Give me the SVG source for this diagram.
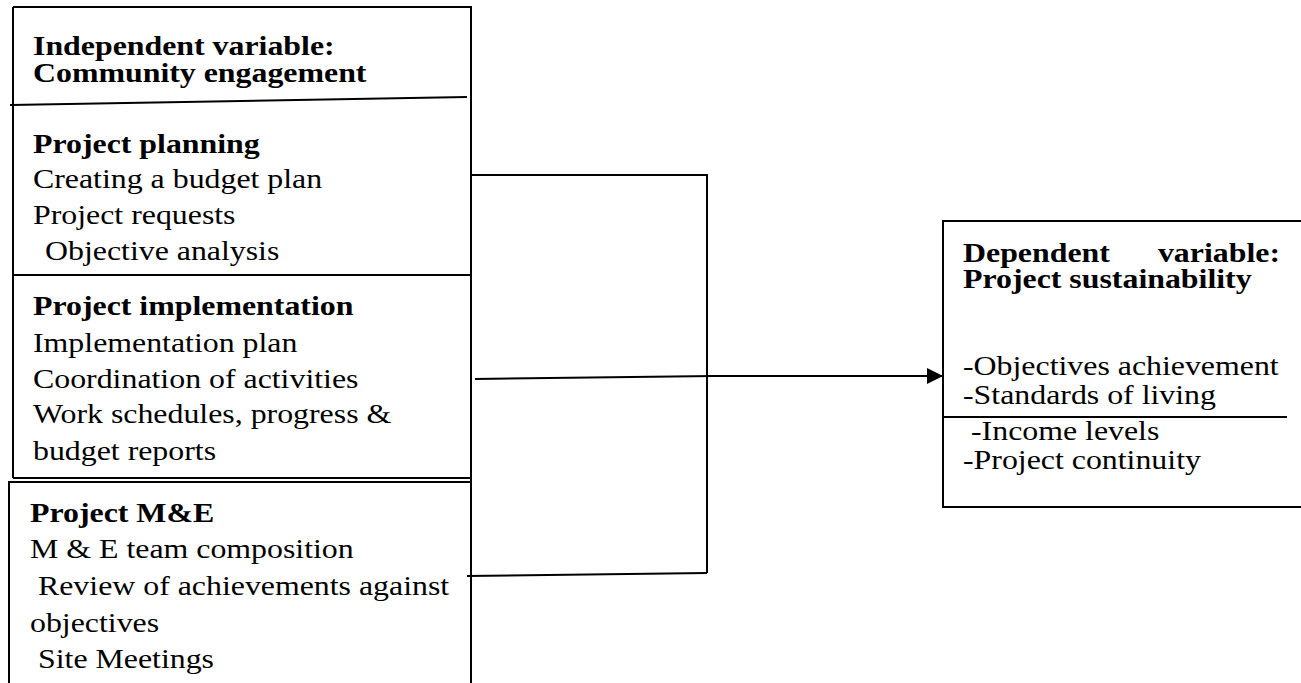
<svg xmlns="http://www.w3.org/2000/svg" width="1301" height="683" viewBox="0 0 1301 683">
<defs>
<style>
text{font-family:"Liberation Serif","Times New Roman",serif;font-size:27px;fill:#000}
.b{font-weight:bold}
.ln{stroke:#000;stroke-width:2;fill:none}
.cn{stroke:#000;stroke-width:2;fill:none}
</style>
<marker id="ah" markerWidth="16" markerHeight="16" refX="16" refY="8" orient="auto" markerUnits="userSpaceOnUse">
<path d="M0,0 L16,8 L0,16 Z" fill="#000"/>
</marker>
</defs>
<rect width="1301" height="683" fill="#fff"/>

<g id="independent">
<path class="ln" d="M13,7 H471 V683 M13,7 V478"/>
<line class="ln" x1="10" y1="105" x2="467" y2="97"/>
<text class="b" transform="matrix(1.18 0 0 1 33 55)">Independent variable:</text>
<text class="b" transform="matrix(1.18 0 0 1 33 82)">Community engagement</text>
</g>

<g id="planning">
<line class="ln" x1="13" y1="275" x2="471" y2="275"/>
<text class="b" transform="matrix(1.18 0 0 1 33 153)">Project planning</text>
<text transform="matrix(1.18 0 0 1 33 188)">Creating a budget plan</text>
<text transform="matrix(1.18 0 0 1 33 224)">Project requests</text>
<text transform="matrix(1.18 0 0 1 45 260)">Objective analysis</text>
</g>

<g id="implementation">
<line class="ln" x1="13" y1="478" x2="471" y2="478"/>
<text class="b" transform="matrix(1.18 0 0 1 33 315)">Project implementation</text>
<text transform="matrix(1.18 0 0 1 33 352)">Implementation plan</text>
<text transform="matrix(1.18 0 0 1 33 388)">Coordination of activities</text>
<text transform="matrix(1.18 0 0 1 33 423)">Work schedules, progress &amp;</text>
<text transform="matrix(1.18 0 0 1 33 460)">budget reports</text>
</g>

<g id="me">
<path class="ln" d="M9,683 V482 H471"/>
<text class="b" transform="matrix(1.18 0 0 1 30 522)">Project M&amp;E</text>
<text transform="matrix(1.18 0 0 1 30 558)">M &amp; E team composition</text>
<text transform="matrix(1.18 0 0 1 38 595)">Review of achievements against</text>
<text transform="matrix(1.18 0 0 1 30 632)">objectives</text>
<text transform="matrix(1.18 0 0 1 38 668)">Site Meetings</text>
</g>

<g id="dependent">
<path class="ln" d="M1305,221 H943 V507 H1305"/>
<line class="ln" x1="943" y1="417" x2="1287" y2="417"/>
<text class="b" transform="matrix(1.18 0 0 1 963 262)">Dependent</text>
<text class="b" text-anchor="end" transform="matrix(1.18 0 0 1 1280 262)">variable:</text>
<text class="b" transform="matrix(1.18 0 0 1 963 288)">Project sustainability</text>
<text transform="matrix(1.18 0 0 1 963 375)">-Objectives achievement</text>
<text transform="matrix(1.18 0 0 1 963 404)">-Standards of living</text>
<text transform="matrix(1.18 0 0 1 971 440)">-Income levels</text>
<text transform="matrix(1.18 0 0 1 963 469)">-Project continuity</text>
</g>

<g id="connectors">
<path class="cn" d="M471,175 H707 V573"/>
<line class="cn" x1="467" y1="576" x2="707" y2="573"/>
<line class="cn" x1="475" y1="379" x2="714" y2="376"/>
<line class="cn" x1="707" y1="376" x2="943" y2="376" marker-end="url(#ah)"/>
</g>
</svg>
